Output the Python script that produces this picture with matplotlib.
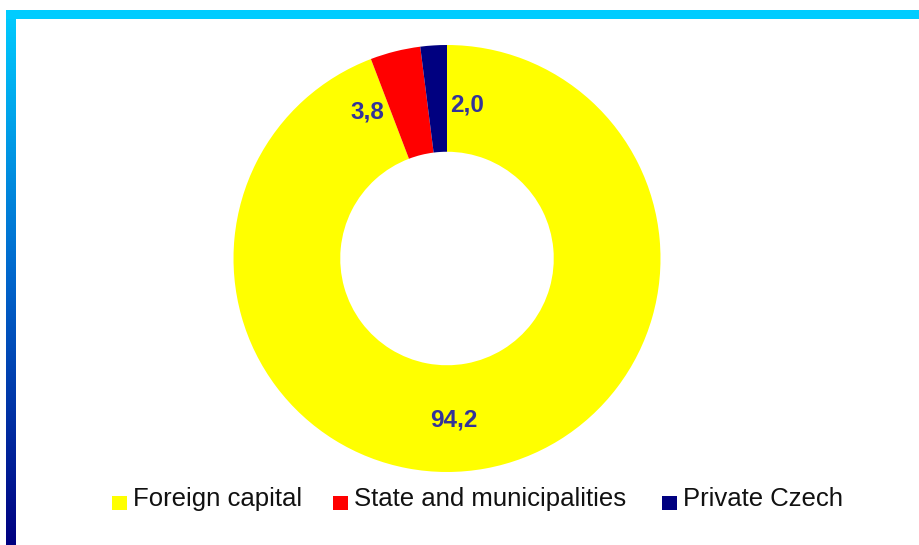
import numpy as np
import matplotlib
matplotlib.use("Agg")
import matplotlib.pyplot as plt
from matplotlib.colors import LinearSegmentedColormap
from matplotlib.patches import Rectangle

# Ownership structure, share in %
categories = ["Foreign capital", "State and municipalities", "Private Czech"]
shares = [94.2, 3.8, 2.0]
share_labels = ["94,2", "3,8", "2,0"]

colors = ["#FFFF00", "#FF0000", "#000080"]
label_color = "#333399"
# where each value label sits, in units of the outer radius
label_pos = [(0.033, -0.756), (-0.372, 0.686), (0.094, 0.719)]

W, H = 919, 545
fig = plt.figure(figsize=(W / 100, H / 100), dpi=100)
fig.patch.set_facecolor("white")

# frame: cyan bar on top, cyan-to-navy bar down the left side
bg = fig.add_axes([0, 0, 1, 1])
bg.set_xlim(0, W)
bg.set_ylim(H, 0)
bg.axis("off")
grad = LinearSegmentedColormap.from_list("frame", ["#00CCFF", "#0066CC", "#000080"])
bg.imshow(np.linspace(0, 1, 256).reshape(-1, 1), cmap=grad, aspect="auto",
          extent=[6, 16, H, 10], zorder=1)
bg.add_patch(Rectangle((6, 10), W - 6, 9, color="#00CCFF", lw=0, zorder=2))

# legend drawn as boxes + text in pixel space
font = ["Liberation Sans", "DejaVu Sans"]
legend_x = [112, 333, 662]
for x, name, c in zip(legend_x, categories, colors):
    bg.add_patch(Rectangle((x, 496), 15, 14, color=c, lw=0, zorder=2))
    bg.text(x + 21, 499, name, fontsize=18.5, family=font,
            ha="left", va="center", color="#111111", zorder=3)

# doughnut
cx, cy, r = 447, 258.5, 213.5
ax = fig.add_axes([(cx - r) / W, (H - cy - r) / H, 2 * r / W, 2 * r / H])
ax.pie(shares, colors=colors, startangle=90, counterclock=False, radius=1,
       wedgeprops=dict(width=0.5, edgecolor="none", antialiased=True))
ax.set_xlim(-1, 1)
ax.set_ylim(-1, 1)
ax.set_aspect("equal")
ax.axis("off")

for (x, y), txt in zip(label_pos, share_labels):
    ax.text(x, y, txt, fontsize=17.5, fontweight="bold", family=font,
            color=label_color, ha="center", va="center")

fig.savefig("out.png", dpi=100, facecolor="white")
